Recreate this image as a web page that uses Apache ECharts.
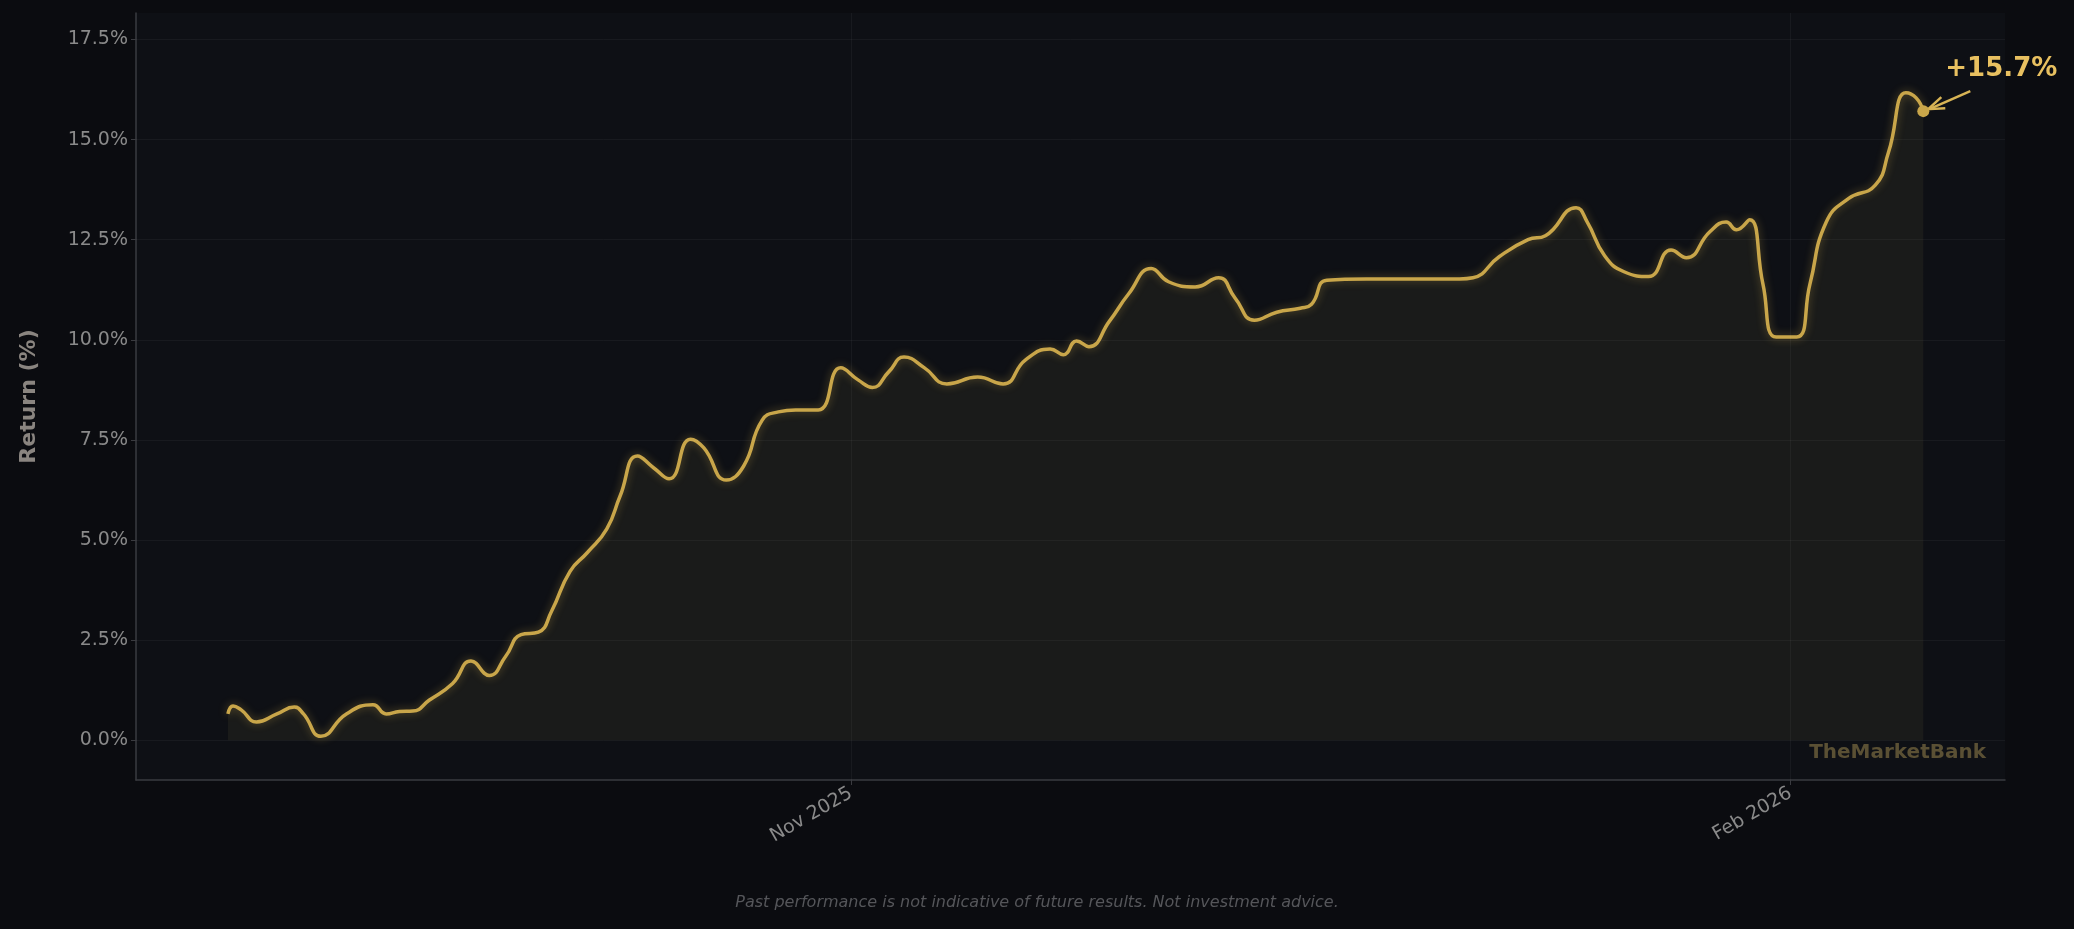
<!DOCTYPE html>
<html><head><meta charset="utf-8">
<script src="https://cdn.jsdelivr.net/npm/echarts@6/dist/echarts.min.js"></script>
<style>html,body{margin:0;padding:0;background:#0b0c10;}#c{width:2074px;height:929px;}</style>
</head><body><div id="c"></div>
<script>
// days since 2025-09-01
const dayOffsets = [0,0.5,1.3,2.8,4.8,6.5,7.4,9.1,11.6,14.2,15.5,16.8,18.1,19.7,22,23.8,25.6,27.2,28.7,30.4,31.7,33.5,35.2,37.1,38.4,40.1,41.7,43.2,45.3,46.6,48.8,50.5,52.3,53.9,55.6,57.8,60,61.7,63.1,64.7,66.2,68.2,70.4,73.4,75.9,78.1,80.5,81.8,83.1,84.3,86.3,88.2,90.4,92.1,94.7,97,98.6,100.5,102.7,105,106.1,107.6,111.5,120.6,121.9,124.5,127.3,129,132,133.1,134.8,136.7,139.1,141.3,142.8,145.1,146.7,147.7,149,150.3,151.6,153.6,154.9,156.5,158.7,161.3,162.6,164.3,165.3,166];
const returns = [0.66,0.86,0.76,0.46,0.66,0.83,0.66,0.1,0.66,0.89,0.66,0.72,0.73,1.0,1.42,1.98,1.62,2.1,2.64,2.7,3.23,4.22,4.69,5.28,6.1,7.1,6.8,6.53,7.52,7.3,6.5,6.85,7.99,8.2,8.25,8.25,9.3,9.0,8.81,9.2,9.57,9.3,8.9,9.07,8.9,9.5,9.77,9.63,9.97,9.83,10.46,11.15,11.78,11.45,11.32,11.55,11.05,10.49,10.69,10.79,10.89,11.49,11.52,11.52,11.55,12.08,12.5,12.6,13.3,12.94,12.1,11.7,11.58,12.24,12.05,12.7,12.94,12.75,13.0,11.39,10.07,10.07,11.39,12.94,13.53,13.86,14.69,16.17,16.04,15.71];
const yTicks = [0,2.5,5,7.5,10,12.5,15,17.5];
const xTickDates = ['2025-11-01','2026-02-01'];
const xTickLabels = ['Nov 2025','Feb 2026'];
const footer = 'Past performance is not indicative of future results. Not investment advice.';

const DAY = 86400000;
const base = Date.UTC(2025,8,1);
const data = dayOffsets.map((d,i)=>[base + d*DAY, returns[i]]);
const xTicks = xTickDates.map(s=>Date.parse(s+'T00:00:00Z'));
const last = data[data.length-1];

const chart = echarts.init(document.getElementById('c'));
const gridColor = 'rgba(255,255,255,0.045)';
chart.setOption({
  backgroundColor:'#0b0c10',
  animation:false,
  grid:{left:136,right:69,top:13,bottom:149,show:true,backgroundColor:'#0e1015',borderColor:'transparent'},
  xAxis:{type:'value',min:base-9*DAY,max:base+174*DAY,
    axisLine:{show:true,onZero:false,lineStyle:{color:'#3a3b40',width:1.5}},
    axisTick:{show:true,customValues:xTicks,lineStyle:{color:'#3a3b40'}},
    axisLabel:{customValues:xTicks,rotate:30,color:'#8a8a8a',fontSize:19,fontFamily:'DejaVu Sans',margin:12,
      formatter:(v)=>{const i=xTicks.findIndex(t=>Math.abs(t-v)<DAY);return i>=0?xTickLabels[i]:'';}},
    splitLine:{show:false}},
  yAxis:{type:'value',min:-0.99,max:18.16,
    name:'Return (%)',nameLocation:'middle',nameGap:96,
    nameTextStyle:{color:'#8a8580',fontSize:22,fontWeight:'bold',fontFamily:'DejaVu Sans'},
    axisLine:{show:true,onZero:false,lineStyle:{color:'#3a3b40',width:1.5}},
    axisTick:{show:true,customValues:yTicks,lineStyle:{color:'#3a3b40'}},
    axisLabel:{customValues:yTicks,color:'#8a8a8a',fontSize:19,fontFamily:'DejaVu Sans',formatter:v=>v.toFixed(1)+'%'},
    splitLine:{show:false}},
  series:[{
    type:'line',data:data,smooth:0.5,showSymbol:false,
    lineStyle:{color:'#c9a64a',width:3.5,shadowColor:'rgba(201,166,74,0.45)',shadowBlur:8},
    areaStyle:{color:'rgba(160,140,80,0.13)',origin:0},
    markLine:{silent:true,symbol:'none',label:{show:false},lineStyle:{color:gridColor,type:'solid',width:1},
      data:yTicks.map(v=>({yAxis:v})).concat(xTicks.map(v=>({xAxis:v})))},
    markPoint:{data:[{coord:last,symbol:'circle',symbolSize:12,itemStyle:{color:'#c9a64a'},label:{show:false}}]},
    z:3
  }]
});
const p = chart.convertToPixel({gridIndex:0},last);
const p0 = chart.convertToPixel({gridIndex:0},[base+174*DAY,0]);
chart.setOption({graphic:[
  {type:'line',shape:{x1:p[0]+47,y1:p[1]-20,x2:p[0]+6,y2:p[1]-2},style:{stroke:'#d8b455',lineWidth:2.5}},
  {type:'polyline',shape:{points:[[p[0]+18,p[1]-14],[p[0]+5,p[1]-2],[p[0]+22,p[1]-3]]},style:{stroke:'#d8b455',lineWidth:2.5,fill:null}},
  {type:'text',left:p[0]+22,top:p[1]-55,style:{text:'+15.7%',fill:'#e8c060',font:'bold 26px DejaVu Sans'}},
  {type:'text',right:2074-p0[0]+19,top:p0[1]+2,style:{text:'TheMarketBank',fill:'#5a5034',font:'bold 20px DejaVu Sans'}},
  {type:'text',left:'center',top:895,style:{text:footer,fill:'#55565a',font:'italic 16px DejaVu Sans'}}
]});
</script></body></html>
